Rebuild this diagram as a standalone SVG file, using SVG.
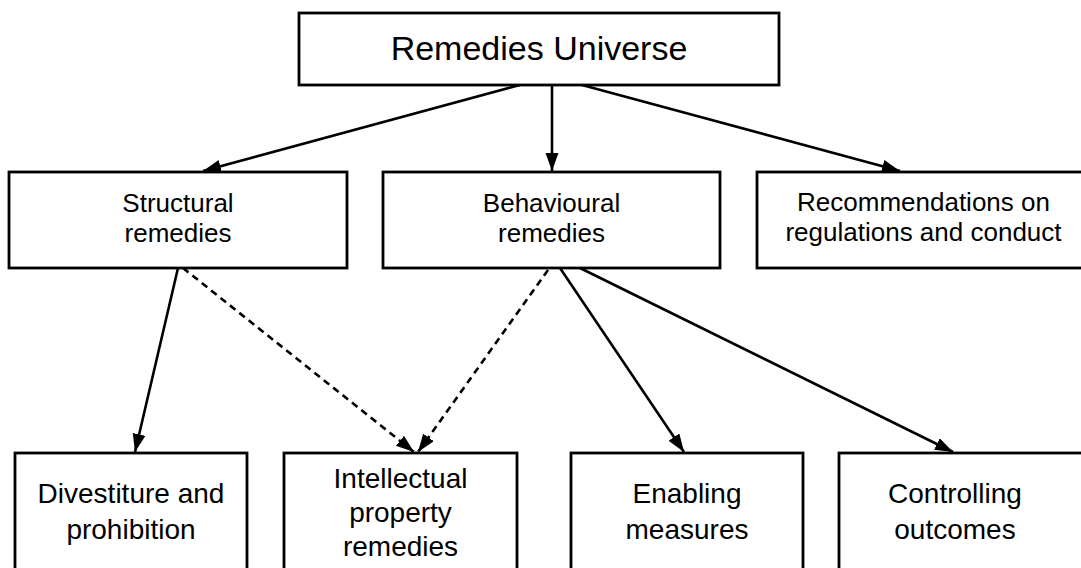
<svg xmlns="http://www.w3.org/2000/svg" width="1081" height="568" viewBox="0 0 1081 568">
<style>
  .box{fill:#fff;stroke:#000;stroke-width:2.8}
  .t{font-family:"Liberation Sans",Arial,sans-serif;fill:#000;text-anchor:middle}
  .t1{font-size:34px}
  .t2{font-size:26px}
  .t3{font-size:28px}
  .c{fill:none;stroke:#000;stroke-width:2.6}
  .d{stroke-dasharray:7 5}
</style>
<defs>
  <marker id="ah" markerUnits="userSpaceOnUse" markerWidth="20" markerHeight="16" refX="18" refY="6.5" orient="auto">
    <path d="M0,0 L18,6.5 L0,13 z" fill="#000"/>
  </marker>
</defs>
<rect width="1081" height="568" fill="#fff"/>
<g id="connectors">
  <line class="c" x1="520" y1="85" x2="203" y2="171" marker-end="url(#ah)"/>
  <line class="c" x1="552" y1="85" x2="552" y2="171" marker-end="url(#ah)"/>
  <line class="c" x1="582" y1="85" x2="900" y2="171" marker-end="url(#ah)"/>
  <line class="c" x1="178" y1="268" x2="135" y2="452" marker-end="url(#ah)"/>
  <line class="c d" x1="183" y1="268" x2="414" y2="452" marker-end="url(#ah)"/>
  <line class="c d" x1="548" y1="270" x2="418" y2="452" marker-end="url(#ah)"/>
  <line class="c" x1="560" y1="268" x2="684" y2="452" marker-end="url(#ah)"/>
  <line class="c" x1="580" y1="268" x2="953" y2="452" marker-end="url(#ah)"/>
</g>
<g id="remedies-universe">
  <rect class="box" x="299" y="13" width="480" height="72"/>
  <text class="t t1" x="539" y="60">Remedies Universe</text>
</g>
<g id="structural">
  <rect class="box" x="9" y="172" width="338" height="96"/>
  <text class="t t2" x="178" y="212">Structural</text>
  <text class="t t2" x="178" y="242">remedies</text>
</g>
<g id="behavioural">
  <rect class="box" x="383" y="172" width="337" height="96"/>
  <text class="t t2" x="551.5" y="212">Behavioural</text>
  <text class="t t2" x="551.5" y="242">remedies</text>
</g>
<g id="recommendations">
  <rect class="box" x="757" y="172" width="333" height="96"/>
  <text class="t t2" x="923.5" y="211">Recommendations on</text>
  <text class="t t2" x="923.5" y="241">regulations and conduct</text>
</g>
<g id="divestiture">
  <rect class="box" x="15" y="453" width="232" height="130"/>
  <text class="t t3" x="131" y="503">Divestiture and</text>
  <text class="t t3" x="131" y="539">prohibition</text>
</g>
<g id="intellectual-property">
  <rect class="box" x="284" y="453" width="233" height="130"/>
  <text class="t t3" x="400.5" y="488">Intellectual</text>
  <text class="t t3" x="400.5" y="522">property</text>
  <text class="t t3" x="400.5" y="556">remedies</text>
</g>
<g id="enabling">
  <rect class="box" x="571" y="453" width="232" height="130"/>
  <text class="t t3" x="687" y="503">Enabling</text>
  <text class="t t3" x="687" y="539">measures</text>
</g>
<g id="controlling">
  <rect class="box" x="839" y="453" width="251" height="130"/>
  <text class="t t3" x="955" y="503">Controlling</text>
  <text class="t t3" x="955" y="539">outcomes</text>
</g>
</svg>
